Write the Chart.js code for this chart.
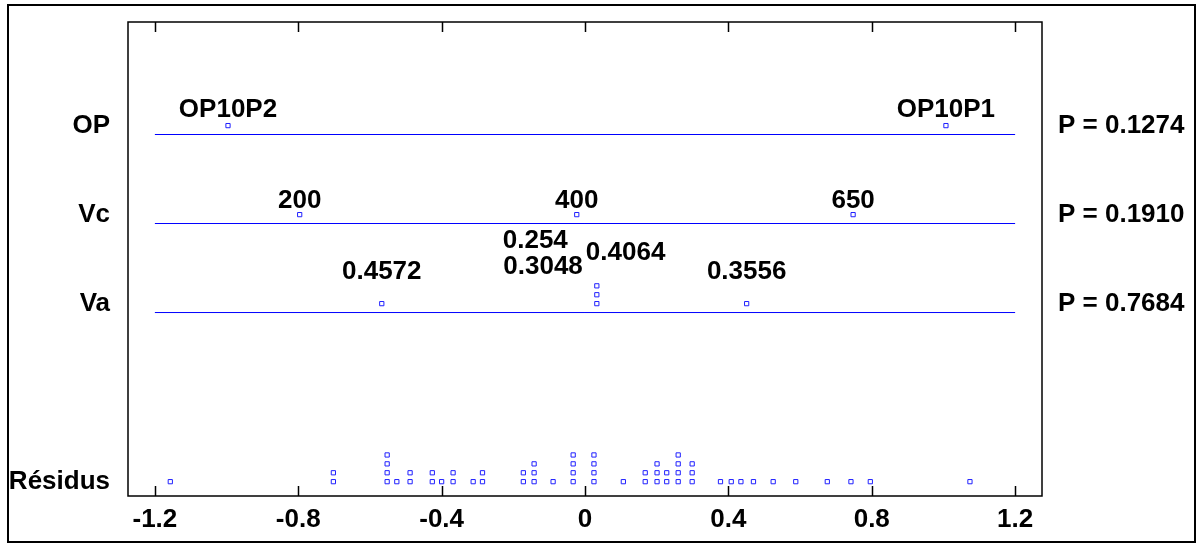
<!DOCTYPE html>
<html>
<head>
<meta charset="utf-8">
<script src="https://cdn.jsdelivr.net/npm/chart.js@4/dist/chart.umd.min.js"></script>
<style>
  html, body { margin: 0; padding: 0; background: #fff; }
  #wrap { width: 1196px; height: 544px; position: relative; }
</style>
</head>
<body>
<div id="wrap"><canvas id="effectsGraph"></canvas></div>
<script>
// rows, bottom to top
var rowNames = ['Résidus', 'Va', 'Vc', 'OP'];
var pValues = ['', 'P = 0.7684', 'P = 0.1910', 'P = 0.1274'];

var opX = [-0.996, 1.007];
var opLabels = ['OP10P2', 'OP10P1'];
var vcX = [-0.796, -0.023, 0.748];
var vcLabels = ['200', '400', '650'];
var vaX = [-0.567, 0.033, 0.033, 0.033, 0.451];
var vaLabels = ['0.4572', '0.254', '0.3048', '0.4064', '0.3556'];

var residuals = [-1.157, -0.702, -0.702, -0.552, -0.552, -0.552, -0.552, -0.525,
                 -0.488, -0.488, -0.426, -0.426, -0.400, -0.368, -0.368, -0.312,
                 -0.286, -0.286, -0.172, -0.172, -0.142, -0.142, -0.142, -0.089,
                 -0.033, -0.033, -0.033, -0.033, 0.025, 0.025, 0.025, 0.025,
                 0.107, 0.168, 0.168, 0.201, 0.201, 0.201, 0.228, 0.228,
                 0.260, 0.260, 0.260, 0.260, 0.299, 0.299, 0.299, 0.378,
                 0.408, 0.435, 0.470, 0.525, 0.588, 0.676, 0.742, 0.796, 1.074];

var xTicks = [-1.2, -0.8, -0.4, 0, 0.4, 0.8, 1.2];
var xTickLabels = ['-1.2', '-0.8', '-0.4', '0', '0.4', '0.8', '1.2'];

// row baselines on the y scale (one unit = one stacked square)
var rowBase = [0, 20, 30, 40];
var Y_MIN = -0.61, Y_MAX = 52.64;

// stack equal values on top of each other
var stack = function(xs, base) {
    var seen = {};
    return xs.map(function(x) {
        var k = String(x);
        seen[k] = (seen[k] || 0) + 1;
        return {x: x, y: base + seen[k]};
    });
};

var rowLine = function(base) {
    return [{x: xTicks[0], y: base}, {x: xTicks[xTicks.length - 1], y: base}];
};

var blue = '#0000ff';
var pointDs = function(data, labels, pos) {
    return {
        data: data,
        pointLabels: labels,
        labelPos: pos,
        pointStyle: 'rect',
        pointRadius: 3,
        pointBorderWidth: 1,
        borderColor: '#2020ff',
        backgroundColor: 'rgba(0,0,0,0)',
        showLine: false
    };
};
var lineDs = function(base) {
    return {
        data: rowLine(base),
        showLine: true,
        borderColor: blue,
        borderWidth: 1,
        pointRadius: 0
    };
};

var labelFont = 'bold 26px "Liberation Sans", Arial, sans-serif';

var frame = {
    id: 'frame',
    afterDraw: function(chart) {
        var ctx = chart.ctx;
        var a = chart.chartArea;
        var xs = chart.scales.x;
        ctx.save();
        ctx.strokeStyle = '#000';
        ctx.lineWidth = 1.5;
        ctx.strokeRect(a.left, a.top, a.right - a.left, a.bottom - a.top);
        xTicks.forEach(function(v) {
            var px = Math.round(xs.getPixelForValue(v)) + 0.5;
            ctx.beginPath();
            ctx.moveTo(px, a.bottom);
            ctx.lineTo(px, a.bottom - 10);
            ctx.moveTo(px, a.top);
            ctx.lineTo(px, a.top + 10);
            ctx.stroke();
        });
        ctx.lineWidth = 2;
        ctx.strokeRect(8, 5, 1187, 537);

        ctx.fillStyle = '#000';
        ctx.font = labelFont;
        ctx.textBaseline = 'middle';
        chart.data.datasets.forEach(function(ds, i) {
            if (!ds.pointLabels) return;
            var meta = chart.getDatasetMeta(i);
            meta.data.forEach(function(pt, j) {
                var st = ds.labelPos[j];
                ctx.textAlign = st.align || 'center';
                ctx.fillText(ds.pointLabels[j], pt.x + (st.dx || 0), pt.y + st.dy);
            });
        });
        ctx.restore();
    }
};

var tickFont = {family: '"Liberation Sans", Arial, sans-serif', size: 26, weight: 'bold'};

var noPad = function(s) {
    s.paddingTop = 0;
    s.paddingBottom = 0;
    s.paddingLeft = 0;
    s.paddingRight = 0;
};

new Chart(document.getElementById('effectsGraph'), {
    type: 'scatter',
    data: {
        datasets: [
            lineDs(rowBase[1]),
            lineDs(rowBase[2]),
            lineDs(rowBase[3]),
            pointDs(stack(opX, rowBase[3]), opLabels, [{dy: -16}, {dy: -16}]),
            pointDs(stack(vcX, rowBase[2]), vcLabels, [{dy: -14}, {dy: -14}, {dy: -14}]),
            pointDs(stack(vaX, rowBase[1]), vaLabels, [
                {dy: -32},
                {dx: -29, dy: -63, align: 'right'},
                {dx: -14, dy: -28, align: 'right'},
                {dx: -11, dy: -33, align: 'left'},
                {dy: -32}
            ]),
            pointDs(stack(residuals, rowBase[0]), null, null)
        ]
    },
    options: {
        responsive: true,
        maintainAspectRatio: false,
        devicePixelRatio: 1,
        animation: false,
        layout: {padding: {top: 22, left: 0, right: 0, bottom: 0}},
        plugins: {legend: {display: false}, tooltip: {enabled: false}},
        scales: {
            x: {
                type: 'linear',
                position: 'bottom',
                min: -1.275,
                max: 1.275,
                afterBuildTicks: function(s) { s.ticks = xTicks.map(function(v) { return {value: v}; }); },
                afterFit: function(s) { s.height = 48; noPad(s); },
                grid: {display: false, drawTicks: false},
                border: {display: false},
                ticks: {
                    color: '#000', font: tickFont, padding: 8, autoSkip: false, maxRotation: 0,
                    callback: function(v, i) { return xTickLabels[i]; }
                }
            },
            y: {
                type: 'linear',
                position: 'left',
                min: Y_MIN,
                max: Y_MAX,
                afterBuildTicks: function(s) { s.ticks = rowBase.map(function(b) { return {value: b + 1}; }); },
                afterFit: function(s) { s.width = 128; noPad(s); },
                grid: {display: false, drawTicks: false},
                border: {display: false},
                ticks: {
                    color: '#000', font: tickFont, padding: 18, autoSkip: false,
                    callback: function(v, i) { return rowNames[i]; }
                }
            },
            y2: {
                type: 'linear',
                position: 'right',
                min: Y_MIN,
                max: Y_MAX,
                afterBuildTicks: function(s) { s.ticks = rowBase.map(function(b) { return {value: b + 1}; }); },
                afterFit: function(s) { s.width = 154; noPad(s); },
                grid: {display: false, drawTicks: false},
                border: {display: false},
                ticks: {
                    color: '#000', font: tickFont, padding: 16, autoSkip: false,
                    callback: function(v, i) { return pValues[i]; }
                }
            }
        }
    },
    plugins: [frame]
});
</script>
</body>
</html>
